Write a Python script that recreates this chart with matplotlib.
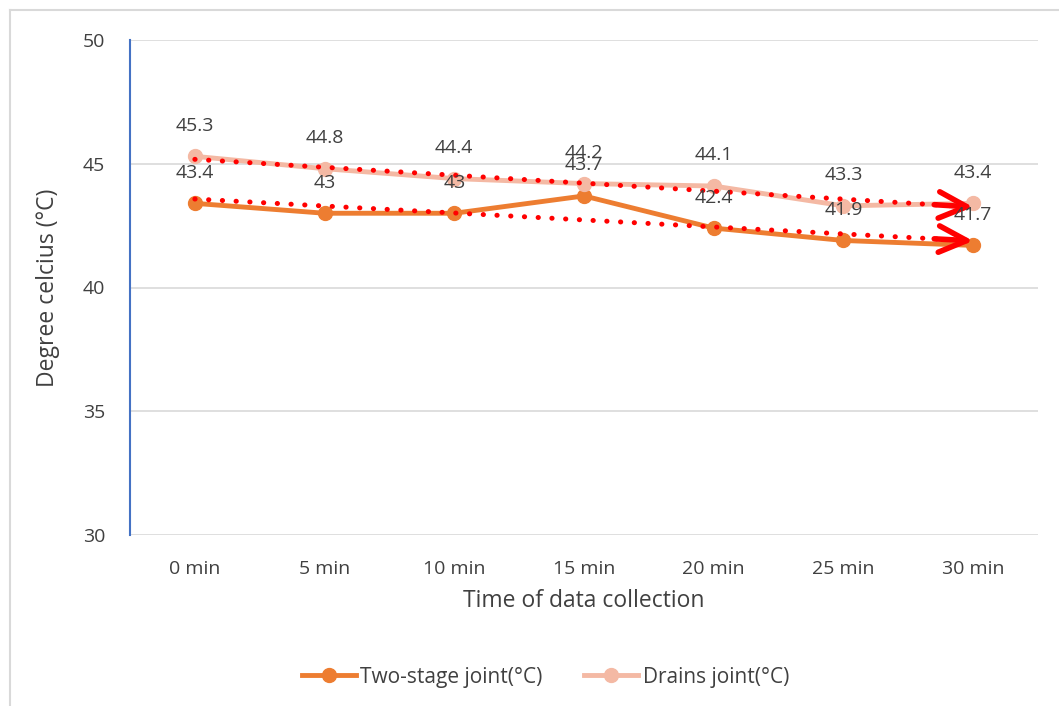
import numpy as np
import matplotlib.pyplot as plt
from matplotlib.lines import Line2D

plt.rcParams['font.family'] = ['Open Sans', 'DejaVu Sans']

categories = ['0 min', '5 min', '10 min', '15 min', '20 min', '25 min', '30 min']
two_stage = [43.4, 43.0, 43.0, 43.7, 42.4, 41.9, 41.7]
drains = [45.3, 44.8, 44.4, 44.2, 44.1, 43.3, 43.4]
labels_two = ['43.4', '43', '43', '43.7', '42.4', '41.9', '41.7']
labels_dr = ['45.3', '44.8', '44.4', '44.2', '44.1', '43.3', '43.4']

c_two = '#ED7D31'
c_dr = '#F4B9A4'
text_c = '#404040'

fig = plt.figure(figsize=(10.59, 7.06), dpi=100)
ax = fig.add_axes([130/1059, 1 - 535/706, 908/1059, 495/706])

x = np.arange(len(categories))

ax.plot(x, two_stage, color=c_two, lw=3.5, marker='o', ms=10, zorder=3,
        solid_capstyle='round')
ax.plot(x, drains, color=c_dr, lw=3.5, marker='o', ms=10, zorder=3,
        solid_capstyle='round')

# linear trendlines with arrows
for ys in (two_stage, drains):
    k, b = np.polyfit(x, ys, 1)
    ty = k * x + b
    ax.plot(x, ty, color='red', lw=3.6, linestyle=(0, (0.05, 2.7)),
            dash_capstyle='round', zorder=4)
    ax.annotate('', xy=(x[-1], ty[-1]), xytext=(x[-1] - 0.3, ty[-1] - k * 0.3),
                arrowprops=dict(arrowstyle='->,head_length=2.0,head_width=0.95',
                                color='red', lw=4, shrinkA=0, shrinkB=0),
                zorder=5)

for xi, v, t in zip(x, two_stage, labels_two):
    ax.annotate(t, (xi, v), xytext=(0, 22), textcoords='offset points',
                ha='center', va='center', fontsize=14, color=text_c, zorder=6)
for xi, v, t in zip(x, drains, labels_dr):
    ax.annotate(t, (xi, v), xytext=(0, 22), textcoords='offset points',
                ha='center', va='center', fontsize=14, color=text_c, zorder=6)

ax.set_xlim(-0.5, len(categories) - 0.5)
ax.set_ylim(30, 50)
ax.set_yticks([30, 35, 40, 45, 50])
ax.set_xticks(x)
ax.set_xticklabels(categories)
ax.tick_params(length=0, labelsize=14, colors=text_c, pad=18)
ax.tick_params(axis='y', pad=18)
ax.grid(axis='y', color='#D9D9D9', lw=1.2)
ax.set_axisbelow(True)
for s in ['top', 'right', 'bottom']:
    ax.spines[s].set_visible(False)
ax.spines['left'].set_color('#4472C4')
ax.spines['left'].set_linewidth(1.5)

ax.set_xlabel('Time of data collection', fontsize=16.5, color=text_c, labelpad=8)
ax.set_ylabel('Degree celcius (°C)', fontsize=16.5, color=text_c, labelpad=16)

handles = [Line2D([0], [0], color=c_two, lw=3.5, marker='o', ms=10),
           Line2D([0], [0], color=c_dr, lw=3.5, marker='o', ms=10)]
fig.legend(handles, ['Two-stage joint(°C)', 'Drains joint(°C)'],
           loc='center', bbox_to_anchor=(0.515, 1 - 677/706), ncol=2,
           frameon=False, fontsize=15, labelcolor=text_c,
           handlelength=2.6, handletextpad=0.2, columnspacing=2.0)

# outer chart border (left and top edges visible)
fig.add_artist(Line2D([10/1059, 10/1059], [0, 1 - 10/706], color='#D9D9D9', lw=1.5))
fig.add_artist(Line2D([10/1059, 1], [1 - 10/706, 1 - 10/706], color='#D9D9D9', lw=1.5))

fig.savefig('out.png', dpi=100)
